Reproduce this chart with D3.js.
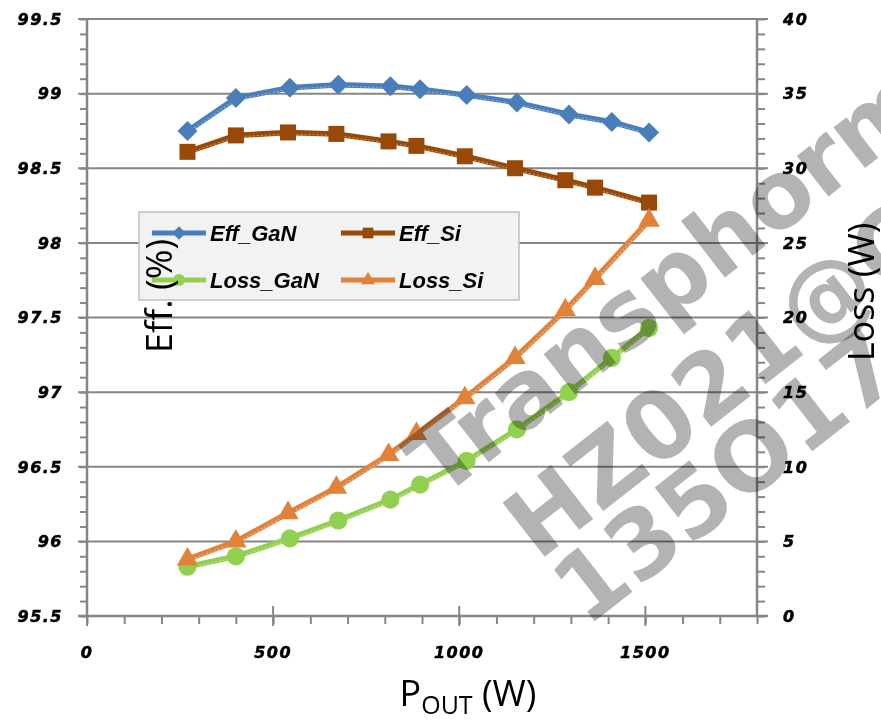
<!DOCTYPE html>
<html>
<head>
<meta charset="utf-8">
<script src="https://cdn.jsdelivr.net/npm/d3@7"></script>
<style>
  body { margin: 0; background: #fff; }
  svg { display: block; }
  .tick-label { font-family: "DejaVu Sans", sans-serif; font-weight: bold; font-style: italic; font-size: 16px; letter-spacing: 1.5px; fill: #000; stroke: #000; stroke-width: 0.5px; }
  .title { font-family: "Open Sans", sans-serif; font-size: 36px; fill: #000; }
  .legend-text { font-family: "Liberation Sans", sans-serif; font-weight: bold; font-style: italic; font-size: 22px; fill: #000; }
  .mark { font-family: "DejaVu Sans", sans-serif; font-weight: bold; font-size: 94px; fill: #b3b3b3; mix-blend-mode: multiply; }
</style>
</head>
<body>
<script>
// data
const powerGaN = [270, 400, 545, 675, 815, 895, 1020, 1155, 1295, 1410, 1510];
const effGaN   = [98.75, 98.97, 99.04, 99.06, 99.05, 99.03, 98.99, 98.94, 98.86, 98.81, 98.74];
const lossGaN  = [3.3, 4.0, 5.2, 6.4, 7.8, 8.8, 10.4, 12.5, 15.0, 17.3, 19.3];

const powerSi = [270, 400, 540, 670, 810, 885, 1015, 1150, 1285, 1365, 1510];
const effSi   = [98.61, 98.72, 98.74, 98.73, 98.68, 98.65, 98.58, 98.50, 98.42, 98.37, 98.27];
const lossSi  = [3.8, 5.0, 6.9, 8.6, 10.8, 12.2, 14.6, 17.3, 20.5, 22.6, 26.5];

const xTicks = [0, 500, 1000, 1500];
const effTicks = [95.5, 96, 96.5, 97, 97.5, 98, 98.5, 99, 99.5];
const lossTicks = [0, 5, 10, 15, 20, 25, 30, 35, 40];

const watermark = ["Transphorm", "HZ021@C", "135O17"];

const W = 881, H = 720;
const svg = d3.select("body").append("svg")
  .attr("width", W)
  .attr("height", H);

const x = d3.scaleLinear().domain([0, 1800]).range([87, 757]);
const yEff = d3.scaleLinear().domain([95.5, 99.5]).range([616, 19]);
const yLoss = d3.scaleLinear().domain([0, 40]).range([616, 19]);

const gridColor = "#868686";

// gridlines
svg.append("g")
  .selectAll("line")
  .data(effTicks.slice(1))
  .join("line")
  .attr("x1", 78)
  .attr("x2", 768)
  .attr("y1", d => yEff(d))
  .attr("y2", d => yEff(d))
  .attr("stroke", gridColor)
  .attr("stroke-width", 2);

// minor ticks via d3 axes
function styleAxis(g) {
  g.select(".domain").remove();
  g.selectAll(".tick line").attr("stroke", gridColor).attr("stroke-width", 2);
  g.selectAll(".tick text").remove();
}

svg.append("g")
  .attr("transform", "translate(87,0)")
  .call(d3.axisLeft(yEff).tickValues(d3.range(955, 996, 1).map(d => d / 10)).tickSize(7))
  .call(styleAxis);

svg.append("g")
  .attr("transform", "translate(757,0)")
  .call(d3.axisRight(yLoss).tickValues(d3.range(0, 41, 1)).tickSize(8))
  .call(styleAxis);

svg.append("g")
  .attr("transform", "translate(0,616)")
  .call(d3.axisBottom(x).tickValues(d3.range(0, 1801, 100)).tickSize(8))
  .call(styleAxis);

// major x ticks crossing the axis
svg.append("g")
  .selectAll("line")
  .data(xTicks)
  .join("line")
  .attr("x1", d => x(d))
  .attr("x2", d => x(d))
  .attr("y1", 606)
  .attr("y2", 626)
  .attr("stroke", gridColor)
  .attr("stroke-width", 2);

// axis lines
svg.append("line").attr("x1", 87).attr("x2", 87).attr("y1", 19).attr("y2", 617)
  .attr("stroke", gridColor).attr("stroke-width", 2.5);
svg.append("line").attr("x1", 757).attr("x2", 757).attr("y1", 19).attr("y2", 617)
  .attr("stroke", gridColor).attr("stroke-width", 2.5);
svg.append("line").attr("x1", 78).attr("x2", 768).attr("y1", 616).attr("y2", 616)
  .attr("stroke", gridColor).attr("stroke-width", 2.5);

// tick labels
svg.append("g")
  .selectAll("text")
  .data(effTicks)
  .join("text")
  .attr("class", "tick-label")
  .attr("x", 63)
  .attr("y", d => yEff(d))
  .attr("dy", "0.36em")
  .attr("text-anchor", "end")
  .text(d => d);

svg.append("g")
  .selectAll("text")
  .data(lossTicks)
  .join("text")
  .attr("class", "tick-label")
  .attr("x", 783)
  .attr("y", d => yLoss(d))
  .attr("dy", "0.36em")
  .text(d => d);

svg.append("g")
  .selectAll("text")
  .data(xTicks)
  .join("text")
  .attr("class", "tick-label")
  .attr("x", d => x(d))
  .attr("y", 658)
  .attr("text-anchor", "middle")
  .text(d => d);

// legend box
const legend = svg.append("g");
legend.append("rect")
  .attr("x", 139).attr("y", 212)
  .attr("width", 380).attr("height", 88)
  .attr("fill", "#f2f2f2")
  .attr("stroke", "#c0c0c0")
  .attr("stroke-width", 1.5);

// series
const series = [
  { name: "Eff_GaN", px: powerGaN, py: effGaN, y: yEff, color: "#4a7ebb", light: "#9bb8dc", shape: "diamond", lx: 152, ly: 233 },
  { name: "Eff_Si", px: powerSi, py: effSi, y: yEff, color: "#984807", light: "#d49a6a", shape: "square", lx: 341, ly: 233 },
  { name: "Loss_GaN", px: powerGaN, py: lossGaN, y: yLoss, color: "#92d050", light: "#c9e8a8", shape: "circle", lx: 152, ly: 280 },
  { name: "Loss_Si", px: powerSi, py: lossSi, y: yLoss, color: "#e0823a", light: "#f3c29c", shape: "triangle", lx: 341, ly: 280 }
];

function marker(shape, scale) {
  if (shape === "diamond") return { d: d3.symbol(d3.symbolSquare, 200 * scale)(), rot: 45 };
  if (shape === "square") return { d: d3.symbol(d3.symbolSquare, 256 * scale)(), rot: 0 };
  if (shape === "circle") return { d: d3.symbol(d3.symbolCircle, 260 * scale)(), rot: 0 };
  return { d: d3.symbol(d3.symbolTriangle, 200 * scale)(), rot: 0 };
}

const plot = svg.append("g");
series.forEach(s => {
  const pts = s.px.map((p, i) => [x(p), s.y(s.py[i])]);
  const line = d3.line();
  plot.append("path")
    .attr("d", line(pts))
    .attr("fill", "none")
    .attr("stroke", s.color)
    .attr("stroke-width", 5.5)
    .attr("stroke-linejoin", "round");
  plot.append("path")
    .attr("d", line(pts.map(p => [p[0], p[1] + 1.5])))
    .attr("fill", "none")
    .attr("stroke", s.light)
    .attr("stroke-width", 1.2)
    .attr("stroke-dasharray", "2,2")
    .attr("opacity", 0.8);
  const m = marker(s.shape, 1);
  plot.selectAll(null)
    .data(pts)
    .join("path")
    .attr("d", m.d)
    .attr("transform", d => `translate(${d[0]},${d[1]}) rotate(${m.rot})`)
    .attr("fill", s.color);

  // legend entry
  legend.append("line")
    .attr("x1", s.lx).attr("x2", s.lx + 54)
    .attr("y1", s.ly).attr("y2", s.ly)
    .attr("stroke", s.color).attr("stroke-width", 5);
  const lm = marker(s.shape, 0.45);
  legend.append("path")
    .attr("d", lm.d)
    .attr("transform", `translate(${s.lx + 27},${s.ly}) rotate(${lm.rot})`)
    .attr("fill", s.color);
  legend.append("text")
    .attr("class", "legend-text")
    .attr("x", s.lx + 58)
    .attr("y", s.ly + 8)
    .text(s.name);
});

// axis titles
svg.append("text")
  .attr("class", "title")
  .attr("transform", "translate(172,296) rotate(-90)")
  .attr("text-anchor", "middle")
  .text("Eff. (%)");

svg.append("text")
  .attr("class", "title")
  .attr("transform", "translate(874,292) rotate(-90)")
  .attr("text-anchor", "middle")
  .text("Loss (W)");

const xt = svg.append("text")
  .attr("class", "title")
  .attr("x", 468)
  .attr("y", 706)
  .attr("text-anchor", "middle");
xt.append("tspan").text("P");
xt.append("tspan").attr("font-size", "25px").attr("dy", 8).text("OUT");
xt.append("tspan").attr("dy", -8).text(" (W)");

// watermark
const wmPos = [[440, 500], [538, 562], [586, 628]];
svg.append("g")
  .selectAll("text")
  .data(watermark)
  .join("text")
  .attr("class", "mark")
  .attr("transform", (d, i) => `translate(${wmPos[i][0]},${wmPos[i][1]}) rotate(-38)`)
  .text(d => d);
</script>
</body>
</html>
